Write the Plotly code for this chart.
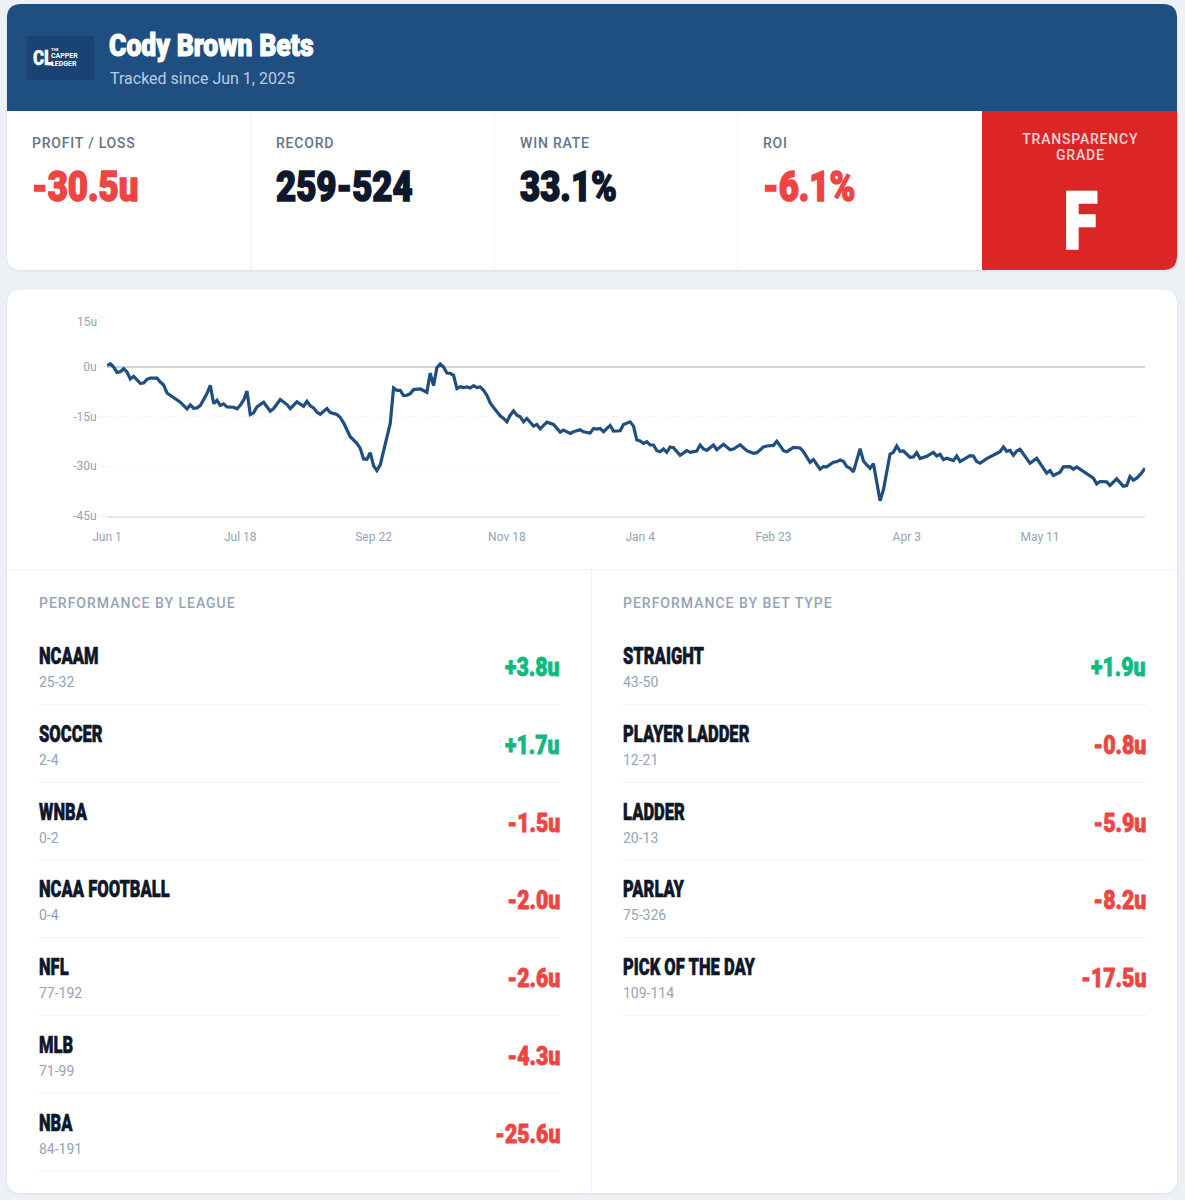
import plotly.graph_objects as go

W, H = 1185, 1200

# ---------- data ----------
position = [0,1,2,3,4,5,6,7,8,9,10,11,12,13,15,16,17,18,19,20,22,24,25,26,27,28,29,30,31,32,33,34,35,36,38,39,40,41,42,43,44,45,47,49,50,52,54,55,57,59,60,61,62,63,64,66,67,69,70,71,73,75,76,77,78,79,80,81,82,85,86,87,88,89,90,91,92,94,96,97,98,99,100,
 101,102,103,104,105,106,107,108,109,110,111,112,113,114,115,116,118,119,120,121,122,123,124,125,126,128,129,130,132,134,136,137,139,140,142,143,145,146,147,148,149,151,152,154,155,157,158,159,160,161,162,163,164,165,166,167,168,169,170,172,174,175,177,178,179,180,182,183,185,187,188,190,192,194,195,197,198,200,201,202,203,204,206,208,
 209,211,212,214,215,216,218,219,220,221,222,223,224,226,227,228,229,230,232,233,235,236,237,238,239,241,242,243,244,246,248,249,250,251,252,254,255,256,259,260,261,262,264,268,269,270,271,272,273,274,277,279,282,283,284,286,287,289,290,291,293,296,297,298,300,301,303,305,306,307,308,309,310,311.5]
units = [0.4,0.9,-0.1,-1.7,-1.5,-0.6,-1.6,-3.7,-2.9,-3.9,-5.0,-4.9,-3.8,-3.4,-3.4,-4.6,-5.5,-7.9,-8.6,-9.4,-10.7,-12.7,-11.5,-12.5,-12.4,-11.7,-10.1,-8.1,-5.6,-11.1,-10.1,-11.7,-11.2,-12.1,-12.2,-12.7,-11.6,-10.1,-7.3,-14.4,-13.9,-12.1,-10.7,-13.4,-12.6,-9.9,-11.4,-12.6,-10.6,-11.9,-10.4,-11.8,-12.4,-13.7,-14.3,-12.6,-13.8,-14.4,-15.3,-16.9,-21.1,-23.1,-24.6,-27.8,-27.9,-25.9,-29.9,-31.3,-29.6,-17.1,-6.4,-7.1,-7.1,-8.7,-8.6,-8.1,-6.9,-6.7,-7.7,-1.9,-5.7,-0.3,0.8,
 -0.1,-1.9,-2.0,-2.6,-6.6,-6.0,-6.3,-6.1,-6.4,-5.7,-6.3,-6.1,-7.1,-8.6,-10.9,-12.3,-14.8,-15.6,-16.6,-14.6,-13.3,-14.6,-15.1,-16.6,-15.6,-17.9,-17.4,-18.7,-16.7,-17.4,-19.7,-19.1,-20.1,-19.6,-19.0,-19.6,-20.0,-18.6,-18.8,-18.6,-19.6,-17.7,-19.4,-19.3,-17.4,-16.6,-17.9,-22.1,-22.4,-23.1,-22.6,-23.6,-23.6,-25.3,-25.6,-24.8,-25.8,-24.2,-24.4,-26.7,-25.3,-25.8,-25.4,-23.6,-24.8,-25.2,-23.6,-25.0,-23.4,-25.0,-24.8,-23.5,-25.3,-26.1,-25.9,-24.2,-23.9,-23.7,-22.5,-23.8,-25.3,-25.6,-24.3,-24.5,
 -25.6,-28.8,-28.0,-30.9,-30.1,-30.2,-28.8,-28.6,-28.1,-28.5,-30.1,-30.6,-31.7,-24.7,-28.4,-29.6,-30.6,-29.2,-40.4,-37.1,-26.3,-25.8,-23.9,-25.5,-25.4,-27.3,-27.2,-25.9,-27.7,-27.0,-25.8,-26.9,-26.4,-28.0,-27.6,-28.3,-26.9,-28.6,-26.8,-26.9,-28.6,-29.1,-27.7,-25.6,-24.2,-25.5,-25.2,-26.7,-25.4,-24.9,-29.1,-27.6,-32.1,-31.3,-32.8,-31.8,-30.2,-30.1,-30.9,-30.2,-31.5,-33.6,-35.3,-34.6,-34.7,-35.8,-33.8,-36.0,-35.8,-33.1,-34.2,-33.6,-32.6,-30.6]

x_tick_pos = [0,40,80,120,160,200,240,280]
x_tick_labels = ["Jun 1","Jul 18","Sep 22","Nov 18","Jan 4","Feb 23","Apr 3","May 11"]
y_tick_vals = [0,-15,-30,-45]
y_tick_labels = ["0u","-15u","-30u","-45u"]

stat_labels = ["PROFIT / LOSS","RECORD","WIN RATE","ROI"]
stat_values = ["-30.5u","259-524","33.1%","-6.1%"]
stat_colors = ["#ef4444","#0f172a","#0f172a","#ef4444"]

league_names = ["NCAAM","SOCCER","WNBA","NCAA FOOTBALL","NFL","MLB","NBA"]
league_records = ["25-32","2-4","0-2","0-4","77-192","71-99","84-191"]
league_units = [3.8,1.7,-1.5,-2.0,-2.6,-4.3,-25.6]

bet_names = ["STRAIGHT","PLAYER LADDER","LADDER","PARLAY","PICK OF THE DAY"]
bet_records = ["43-50","12-21","20-13","75-326","109-114"]
bet_units = [1.9,-0.8,-5.9,-8.2,-17.5]

# ---------- styles ----------
BG = "#edf1f6"; BLUE = "#1f4e80"; DARK = "#0f172a"; RED = "#ef4444"; GREEN = "#10b981"
GRAY = "#94a3b8"; SLATE = "#64748b"; RULE = "#eef1f5"
BODY = "Roboto"; HEAVY = "Roboto"

fx = lambda p: p / W
fy = lambda p: 1 - p / H

def heavy(size, color):
    return dict(family=HEAVY, size=size, color=color, weight=900)

annots, shapes = [], []

def text(x, y, t, font, anchor="left"):
    annots.append(dict(x=fx(x), y=fy(y), xref="paper", yref="paper", text=t, showarrow=False,
                       xanchor=anchor, yanchor="middle", align=anchor, font=font, borderpad=0, borderwidth=0))

def path(d, fill):
    shapes.append(dict(type="path", path=d, xref="paper", yref="paper",
                       fillcolor=fill, line=dict(width=0), layer="below"))

def P(x, y):
    return f"{fx(x)},{fy(y)}"

def round_rect(x0, y0, x1, y1, r, fill, tl=True, tr=True, br=True, bl=True):
    rtl, rtr, rbr, rbl = [r if f else 0 for f in (tl, tr, br, bl)]
    def q(cx, cy, ex, ey):
        return f" Q{P(cx,cy)} {P(ex,ey)}"
    d = "M" + P(x0 + rtl, y0) + " L" + P(x1 - rtr, y0) + q(x1, y0, x1, y0 + rtr)
    d += " L" + P(x1, y1 - rbr) + q(x1, y1, x1 - rbr, y1)
    d += " L" + P(x0 + rbl, y1) + q(x0, y1, x0, y1 - rbl)
    d += " L" + P(x0, y0 + rtl) + q(x0, y0, x0 + rtl, y0) + " Z"
    path(d, fill)

def rule(x0, y0, x1, y1, color=RULE, width=1):
    shapes.append(dict(type="line", xref="paper", yref="paper", x0=fx(x0), y0=fy(y0), x1=fx(x1), y1=fy(y1),
                       line=dict(color=color, width=width), layer="below"))

# cards
round_rect(6, 4, 1178, 272, 15, "#e3e8ef")
round_rect(7, 4, 1177, 270, 14, "#ffffff")
round_rect(7, 4, 1177, 111, 14, BLUE, br=False, bl=False)
round_rect(982, 111, 1177, 270, 14, "#dc2626", tl=False, tr=False, bl=False)
round_rect(6, 290, 1178, 1195, 15, "#e3e8ef")
round_rect(7, 290, 1177, 1193, 14, "#ffffff")
for sx in (250.5, 494.5, 737.5):
    rule(sx, 111, sx, 270)
rule(7, 569.5, 1177, 569.5)
rule(591.5, 569.5, 591.5, 1193)

# logo
round_rect(27, 36, 94, 80, 0, "#1a4272")
text(33, 58, "CL", heavy(21, "#ffffff"))
text(50.5, 49.5, "THE", dict(family=BODY, size=4, color="#ffffff", weight=700))
text(50.5, 55.5, "CAPPER", dict(family=BODY, size=7, color="#ffffff", weight=700))
text(50.5, 63.5, "LEDGER", dict(family=BODY, size=7, color="#ffffff", weight=700))

# header
text(109, 45, "Cody Brown Bets", heavy(32, "#ffffff"))
text(110, 79, "Tracked since Jun 1, 2025", dict(family=BODY, size=16, color="#b9cde3"))

# stats
stat_x = [32, 276, 519.5, 763]
for sx, lab, val, col in zip(stat_x, stat_labels, stat_values, stat_colors):
    text(sx, 143, lab, dict(family=BODY, size=14, color=SLATE, weight=500))
    text(sx, 186, val, heavy(43, col))
text(1080, 139, "TRANSPARENCY", dict(family=BODY, size=14, color="#fad4d4", weight=500), "center")
text(1080, 155, "GRADE", dict(family=BODY, size=14, color="#fad4d4", weight=500), "center")
text(1080, 222, "F", heavy(79, "#ffffff"), "center")

# tables
def table(title, x0, x1, names, recs, vals):
    text(x0, 602.5, title, dict(family=BODY, size=14, color=GRAY, weight=500))
    for i, (n, r, v) in enumerate(zip(names, recs, vals)):
        y = 77.75 * i
        text(x0, 656 + y, n, heavy(24, DARK))
        text(x0, 682 + y, r, dict(family=BODY, size=14, color=GRAY))
        text(x1, 667 + y, f"{v:+.1f}u", heavy(26, GREEN if v > 0 else RED), "right")
        rule(x0, 704.5 + y, x1, 704.5 + y)

table("PERFORMANCE BY LEAGUE", 39, 560, league_names, league_records, league_units)
table("PERFORMANCE BY BET TYPE", 623, 1146, bet_names, bet_records, bet_units)

# the y tick that sits lower than its gridline in the reference
text(97, 321.5, "15u", dict(family=BODY, size=12, color=GRAY), "right")

fig = go.Figure(go.Scatter(x=position, y=units, mode="lines", line=dict(color=BLUE, width=3.2), hoverinfo="skip"))
fig.update_layout(
    template="none",
    width=W, height=H, margin=dict(l=0, r=0, t=0, b=0, pad=0), autosize=False,
    paper_bgcolor=BG, plot_bgcolor="rgba(0,0,0,0)", showlegend=False,
    shapes=shapes, annotations=annots,
    xaxis=dict(domain=[fx(107), fx(1145)], range=[0, 311.5], tickvals=x_tick_pos, ticktext=x_tick_labels,
               automargin=False,
               showgrid=False, zeroline=False, showline=True, linecolor="#e2e8f0", linewidth=2,
               ticks="outside", ticklen=9, tickcolor="rgba(0,0,0,0)",
               tickfont=dict(family=BODY, size=12, color=GRAY)),
    yaxis=dict(domain=[fy(516), fy(317)], range=[-45, 15], tickvals=[15] + y_tick_vals, ticktext=[""] + y_tick_labels,
               automargin=False,
               showgrid=True, gridcolor="#f0f3f7", griddash="3px,3px", gridwidth=1,
               zeroline=True, zerolinecolor="#cbd5e1", zerolinewidth=2,
               ticks="outside", ticklen=7, tickcolor="#eef1f5",
               tickfont=dict(family=BODY, size=12, color=GRAY)),
)

# Page styling: no body margin; the reference's condensed heavy face is not installed, so the
# black-weight texts are narrowed horizontally and thickened, and the small caps labels get letter spacing.
post = """
document.body.style.margin='0';document.body.style.background='%s';document.documentElement.style.overflow='hidden';
(function(){
 var squeeze={43:.81,32:.83,24:.69,26:.82,79:.78,21:.8};
 var thick={43:1.6,32:1.1,24:.6,26:.8,79:2.5,21:.5};
 function apply(){
  document.querySelectorAll('text.annotation-text').forEach(function(t){
    if(t.dataset.done) return; t.dataset.done='1';
    var fs=Math.round(parseFloat(t.style.fontSize)), fw=String(t.style.fontWeight), s=t.textContent;
    if(fs==14 && fw=='500'){t.style.letterSpacing=(s.indexOf('PERFORMANCE')==0?'1px':'.8px');}
    if(fw=='900' && squeeze[fs]){
      var b=t.getBBox();
      var ax=b.x;
      var r=s.match(/^[+-][0-9.]+u$/) && fs==26; var c=(fs==79);
      if(r) ax=b.x+b.width; else if(c) ax=b.x+b.width/2;
      t.setAttribute('transform','translate('+ax+',0) scale('+squeeze[fs]+',1) translate('+(-ax)+',0)');
      t.style.stroke=t.style.fill; t.style.strokeWidth=thick[fs]+'px'; t.style.strokeLinejoin='miter';
    }
  });
 }
 apply(); setTimeout(apply,50);
})();
""" % BG
fig.write_html("out.html", config={"displayModeBar": False}, post_script=post)
